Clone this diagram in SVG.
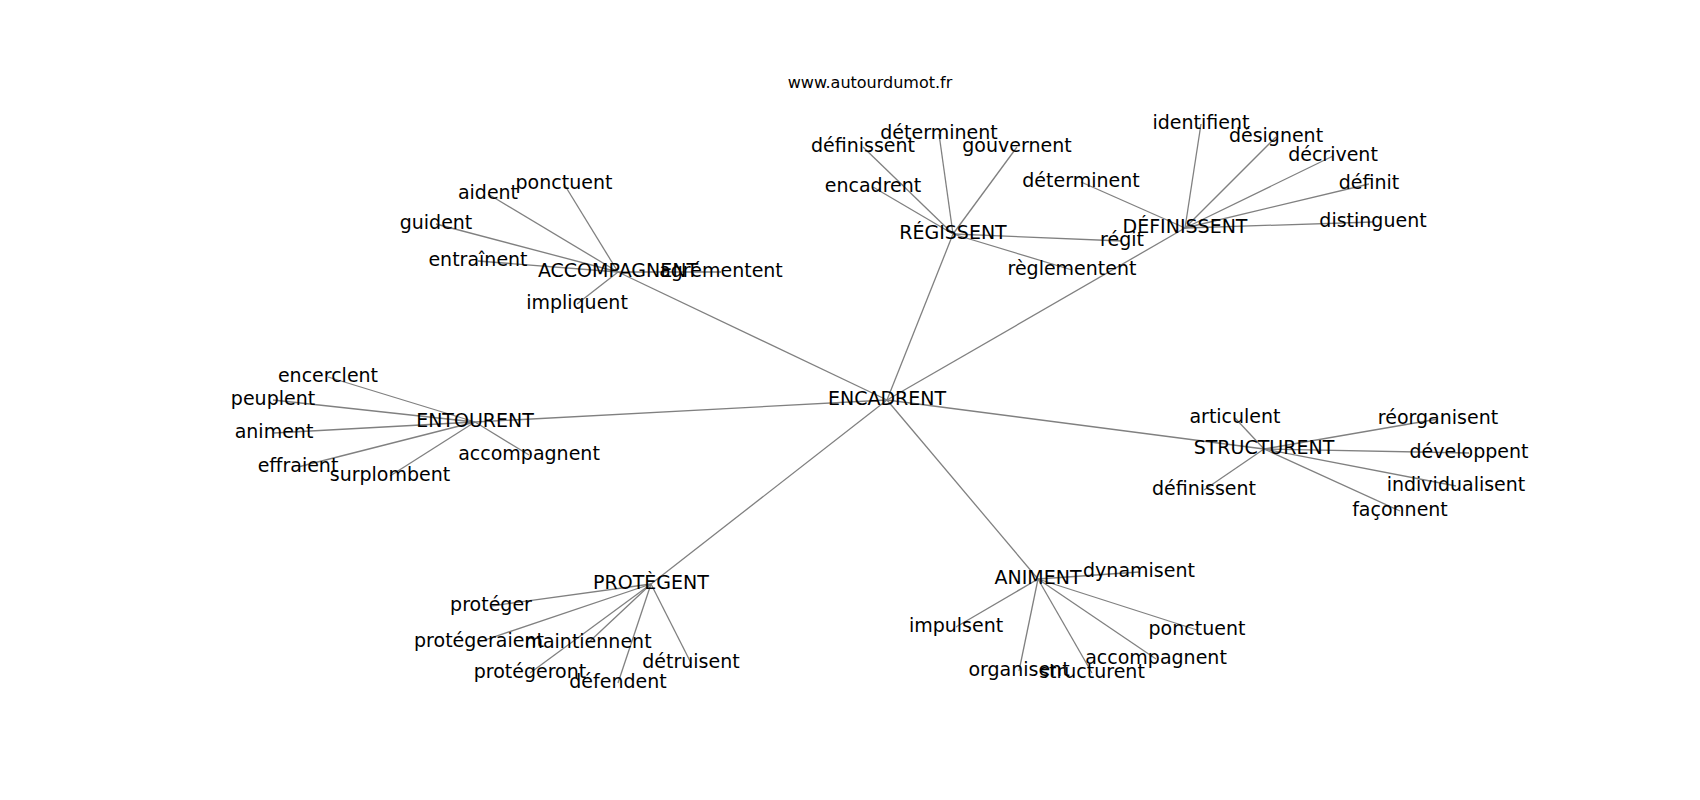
<svg xmlns="http://www.w3.org/2000/svg" width="1700" height="800" viewBox="0 0 1700 800">
<style>
text{font-family:"DejaVu Sans","Liberation Sans",sans-serif;font-size:19px;fill:#000;text-anchor:middle}
.title{font-size:16px}
#edges line{stroke:#808080;stroke-width:1.3}
</style>
<rect width="1700" height="800" fill="#fff"/>
<text class="title" x="870" y="88">www.autourdumot.fr</text>
<g id="edges">
<line x1="887" y1="400" x2="618" y2="272"/>
<line x1="887" y1="400" x2="953" y2="234"/>
<line x1="887" y1="400" x2="1185" y2="228"/>
<line x1="887" y1="400" x2="475" y2="422"/>
<line x1="887" y1="400" x2="1264" y2="449"/>
<line x1="887" y1="400" x2="651" y2="584"/>
<line x1="887" y1="400" x2="1038" y2="579"/>
<line x1="618" y1="272" x2="564" y2="184"/>
<line x1="618" y1="272" x2="488" y2="194"/>
<line x1="618" y1="272" x2="436" y2="224"/>
<line x1="618" y1="272" x2="478" y2="261"/>
<line x1="618" y1="272" x2="721" y2="272"/>
<line x1="618" y1="272" x2="577" y2="304"/>
<line x1="953" y1="234" x2="863" y2="147"/>
<line x1="953" y1="234" x2="939" y2="134"/>
<line x1="953" y1="234" x2="1017" y2="147"/>
<line x1="953" y1="234" x2="873" y2="187"/>
<line x1="953" y1="234" x2="1122" y2="241"/>
<line x1="953" y1="234" x2="1072" y2="270"/>
<line x1="1185" y1="228" x2="1081" y2="182"/>
<line x1="1185" y1="228" x2="1201" y2="124"/>
<line x1="1185" y1="228" x2="1276" y2="137"/>
<line x1="1185" y1="228" x2="1333" y2="156"/>
<line x1="1185" y1="228" x2="1369" y2="184"/>
<line x1="1185" y1="228" x2="1373" y2="222"/>
<line x1="475" y1="422" x2="328" y2="377"/>
<line x1="475" y1="422" x2="273" y2="400"/>
<line x1="475" y1="422" x2="274" y2="433"/>
<line x1="475" y1="422" x2="298" y2="467"/>
<line x1="475" y1="422" x2="390" y2="476"/>
<line x1="475" y1="422" x2="529" y2="455"/>
<line x1="1264" y1="449" x2="1235" y2="418"/>
<line x1="1264" y1="449" x2="1438" y2="419"/>
<line x1="1264" y1="449" x2="1469" y2="453"/>
<line x1="1264" y1="449" x2="1456" y2="486"/>
<line x1="1264" y1="449" x2="1204" y2="490"/>
<line x1="1264" y1="449" x2="1400" y2="511"/>
<line x1="651" y1="584" x2="491" y2="606"/>
<line x1="651" y1="584" x2="479" y2="642"/>
<line x1="651" y1="584" x2="588" y2="643"/>
<line x1="651" y1="584" x2="691" y2="663"/>
<line x1="651" y1="584" x2="530" y2="673"/>
<line x1="651" y1="584" x2="618" y2="683"/>
<line x1="1038" y1="579" x2="1139" y2="572"/>
<line x1="1038" y1="579" x2="956" y2="627"/>
<line x1="1038" y1="579" x2="1197" y2="630"/>
<line x1="1038" y1="579" x2="1156" y2="659"/>
<line x1="1038" y1="579" x2="1019" y2="671"/>
<line x1="1038" y1="579" x2="1092" y2="673"/>
</g>
<g id="n-encadrent"><text x="887" y="405">ENCADRENT</text></g>
<g id="n-accompagnent"><text x="618" y="277">ACCOMPAGNENT</text></g>
<g id="n-regissent"><text x="953" y="239">RÉGISSENT</text></g>
<g id="n-definissent"><text x="1185" y="233">DÉFINISSENT</text></g>
<g id="n-entourent"><text x="475" y="427">ENTOURENT</text></g>
<g id="n-structurent"><text x="1264" y="454">STRUCTURENT</text></g>
<g id="n-protegent"><text x="651" y="589">PROTÈGENT</text></g>
<g id="n-animent"><text x="1038" y="584">ANIMENT</text></g>
<g id="a-ponctuent"><text x="564" y="189">ponctuent</text></g>
<g id="a-aident"><text x="488" y="199">aident</text></g>
<g id="a-guident"><text x="436" y="229">guident</text></g>
<g id="a-entrainent"><text x="478" y="266">entraînent</text></g>
<g id="a-agrementent"><text x="721" y="277">agrémentent</text></g>
<g id="a-impliquent"><text x="577" y="309">impliquent</text></g>
<g id="r-definissent"><text x="863" y="152">définissent</text></g>
<g id="r-determinent"><text x="939" y="139">déterminent</text></g>
<g id="r-gouvernent"><text x="1017" y="152">gouvernent</text></g>
<g id="r-encadrent"><text x="873" y="192">encadrent</text></g>
<g id="r-regit"><text x="1122" y="246">régit</text></g>
<g id="r-reglementent"><text x="1072" y="275">règlementent</text></g>
<g id="d-determinent"><text x="1081" y="187">déterminent</text></g>
<g id="d-identifient"><text x="1201" y="129">identifient</text></g>
<g id="d-designent"><text x="1276" y="142">désignent</text></g>
<g id="d-decrivent"><text x="1333" y="161">décrivent</text></g>
<g id="d-definit"><text x="1369" y="189">définit</text></g>
<g id="d-distinguent"><text x="1373" y="227">distinguent</text></g>
<g id="e-encerclent"><text x="328" y="382">encerclent</text></g>
<g id="e-peuplent"><text x="273" y="405">peuplent</text></g>
<g id="e-animent"><text x="274" y="438">animent</text></g>
<g id="e-effraient"><text x="298" y="472">effraient</text></g>
<g id="e-surplombent"><text x="390" y="481">surplombent</text></g>
<g id="e-accompagnent"><text x="529" y="460">accompagnent</text></g>
<g id="s-articulent"><text x="1235" y="423">articulent</text></g>
<g id="s-reorganisent"><text x="1438" y="424">réorganisent</text></g>
<g id="s-developpent"><text x="1469" y="458">développent</text></g>
<g id="s-individualisent"><text x="1456" y="491">individualisent</text></g>
<g id="s-definissent"><text x="1204" y="495">définissent</text></g>
<g id="s-faconnent"><text x="1400" y="516">façonnent</text></g>
<g id="p-proteger"><text x="491" y="611">protéger</text></g>
<g id="p-protegeraient"><text x="479" y="647">protégeraient</text></g>
<g id="p-maintiennent"><text x="588" y="648">maintiennent</text></g>
<g id="p-detruisent"><text x="691" y="668">détruisent</text></g>
<g id="p-protegeront"><text x="530" y="678">protégeront</text></g>
<g id="p-defendent"><text x="618" y="688">défendent</text></g>
<g id="m-dynamisent"><text x="1139" y="577">dynamisent</text></g>
<g id="m-impulsent"><text x="956" y="632">impulsent</text></g>
<g id="m-ponctuent"><text x="1197" y="635">ponctuent</text></g>
<g id="m-accompagnent"><text x="1156" y="664">accompagnent</text></g>
<g id="m-organisent"><text x="1019" y="676">organisent</text></g>
<g id="m-structurent"><text x="1092" y="678">structurent</text></g>
</svg>
